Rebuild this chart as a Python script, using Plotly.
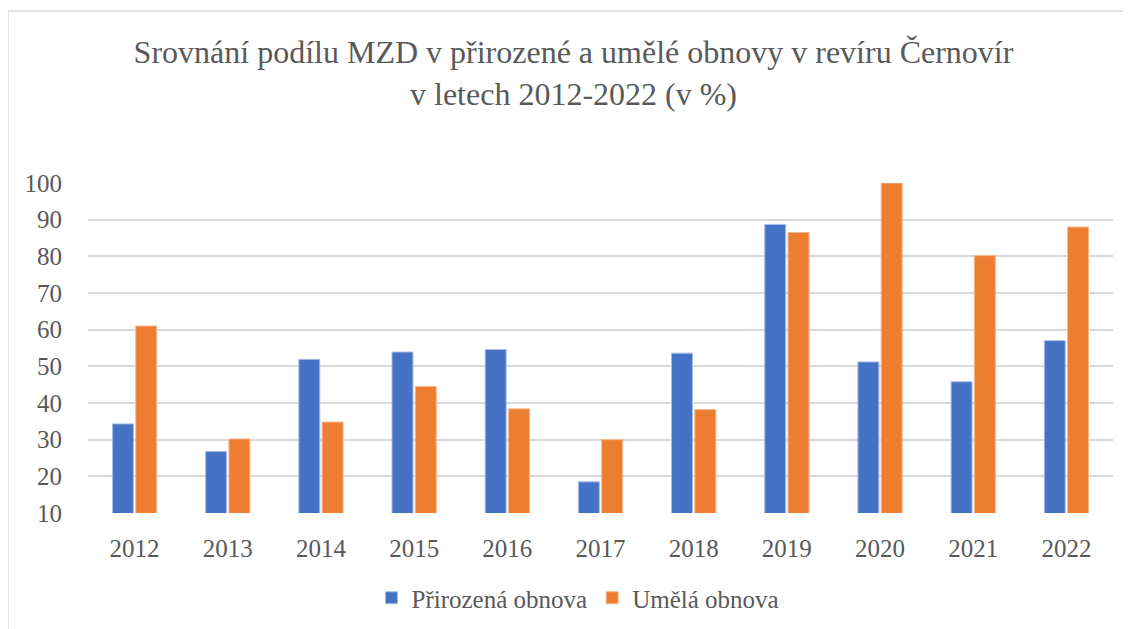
import plotly.graph_objects as go

years = ["2012", "2013", "2014", "2015", "2016", "2017", "2018", "2019", "2020", "2021", "2022"]
prirozena = [34.3, 26.8, 51.9, 53.9, 54.6, 18.5, 53.6, 88.7, 51.2, 45.8, 57.0]
umela = [61.0, 30.2, 34.8, 44.5, 38.4, 30.0, 38.2, 86.5, 100.0, 80.2, 88.0]
y_ticks = [10, 20, 30, 40, 50, 60, 70, 80, 90, 100]

FONT = "Liberation Serif"
TXT = "#595959"

fig = go.Figure()
fig.add_trace(go.Bar(x=years, y=prirozena, name="Přirozená obnova",
                     marker=dict(color="#4472C4", line=dict(color="#A9BEE6", width=1))))
fig.add_trace(go.Bar(x=years, y=umela, name="Umělá obnova",
                     marker=dict(color="#ED7D31", line=dict(color="#F6B88F", width=1))))

W, H = 1131, 629
OFF = 8  # page body margin
PX0, PX1, PY0, PY1 = 88, 1113, 183, 513
L, T = PX0 - OFF, PY0 - OFF
R = W - (PX1 - OFF)
B = H - (PY1 - OFF)
pw, ph = PX1 - PX0, PY1 - PY0

def px_to_paper_x(px):
    return (px - PX0) / pw

def py_to_paper_y(py):
    return (PY1 - py) / ph

fig.update_layout(
    width=W, height=H,
    margin=dict(l=L, r=R, t=T, b=B),
    paper_bgcolor="white", plot_bgcolor="white",
    barmode="group", bargap=0.5, bargroupgap=0.1,
    font=dict(family=FONT, color=TXT),
    title=dict(text="Srovnání podílu MZD v přirozené a umělé obnovy v revíru Černovír<br>v letech 2012-2022 (v %)",
               x=0.5, xanchor="center", y=1 - (63 - OFF) / H, yanchor="middle",
               font=dict(family=FONT, size=32, color=TXT)),
    showlegend=True,
    legend=dict(orientation="h", x=px_to_paper_x(578), xanchor="center", y=py_to_paper_y(598),
                yanchor="middle", font=dict(family=FONT, size=25, color=TXT),
                traceorder="normal"),
    xaxis=dict(showgrid=False, showline=False, ticks="outside", ticklen=13,
               tickcolor="rgba(0,0,0,0)", tickfont=dict(family=FONT, size=25, color=TXT)),
    yaxis=dict(range=[10, 100], tickvals=y_ticks, showgrid=True, gridcolor="#D9D9D9", gridwidth=1.5,
               zeroline=False, showline=False, ticks="outside", ticklen=20,
               tickcolor="rgba(0,0,0,0)", tickfont=dict(family=FONT, size=25, color=TXT)),
    shapes=[dict(type="rect", xref="paper", yref="paper",
                 x0=px_to_paper_x(8), x1=px_to_paper_x(1150),
                 y0=py_to_paper_y(650), y1=py_to_paper_y(11),
                 line=dict(color="#D9D9D9", width=1.5), fillcolor="rgba(0,0,0,0)", layer="below")],
)

fig.write_html("out.html")
